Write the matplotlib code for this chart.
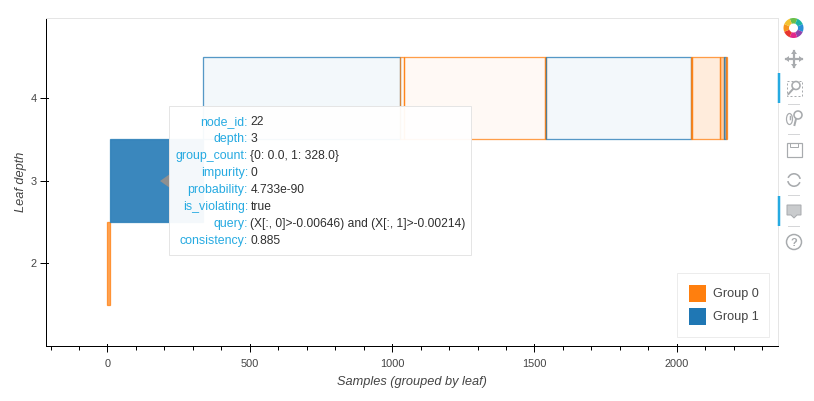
import numpy as np
import matplotlib
matplotlib.use("Agg")
from matplotlib import pyplot as plt
from matplotlib.patches import Rectangle, Circle, Wedge, Polygon, Ellipse

plt.rcParams["font.family"] = ["Liberation Sans", "DejaVu Sans"]

## leaves, left to right
leaf_samples = [10, 327, 690, 16, 494, 4, 509, 4, 99, 14, 5, 3]
leaf_depth = [2, 3, 4, 4, 4, 4, 4, 4, 4, 4, 4, 4]
leaf_group = [0, 1, 1, 0, 0, 0, 1, 0, 0, 0, 1, 0]
leaf_alpha = [0.7, 0.88, 0.05, 0.05, 0.04, 0.5, 0.05, 0.5, 0.14, 0.4, 0.5, 0.8]

group_colors = ["#ff7f0e", "#1f77b4"]
group_names = ["Group 0", "Group 1"]

x_ticks = [0, 500, 1000, 1500, 2000]
y_ticks = [2, 3, 4]

tip_names = ["node_id", "depth", "group_count", "impurity", "probability",
             "is_violating", "query", "consistency"]
tip_values = ["22", "3", "{0: 0.0, 1: 328.0}", "0", "4.733e-90", "true",
              "(X[:, 0]>-0.00646) and (X[:, 1]>-0.00214)", "0.885"]

W, H = 814, 401
px = 1 / 1.3889  # points for one pixel at dpi 100

fig = plt.figure(figsize=(W / 100, H / 100), dpi=100)
ax = fig.add_axes([46 / W, 1 - 346 / H, (778 - 46) / W, (346 - 18) / H])

lefts = np.concatenate([[0], np.cumsum(leaf_samples)[:-1]])
for i in range(len(leaf_samples)):
    c = matplotlib.colors.to_rgb(group_colors[leaf_group[i]])
    ax.bar(lefts[i], 1, width=leaf_samples[i], bottom=leaf_depth[i] - 0.5, align="edge",
           facecolor=c + (leaf_alpha[i],), edgecolor=c + (0.75,), linewidth=1.3 * px)

ax.set_xlim(-216, 2355.5)
ax.set_ylim(0.999, 4.966)
ax.set_xticks(x_ticks)
ax.set_yticks(y_ticks)
ax.set_xticks(np.arange(-200, 2400, 100), minor=True)
ax.tick_params(which="major", length=6 * px, width=px, labelsize=11 * px, labelcolor="#444444",
               direction="out")
ax.tick_params(axis="x", which="major", pad=5.2)
ax.tick_params(axis="y", which="major", pad=2.2)
ax.tick_params(which="minor", length=4 * px, width=px)
# major ticks also reach 2px inside
for t in x_ticks:
    ax.plot([t, t], [0, 2 / 328], transform=ax.get_xaxis_transform(), color="black", lw=px)
for t in y_ticks:
    ax.plot([0, 2 / 732], [t, t], transform=ax.get_yaxis_transform(), color="black", lw=px)
ax.set_xlabel("Samples (grouped by leaf)", fontsize=12.8 * px, style="italic", color="#444444", labelpad=5.2)
ax.set_ylabel("Leaf depth", fontsize=12.8 * px, style="italic", color="#444444", labelpad=2.4)
for s in ["top", "right"]:
    ax.spines[s].set_color("#e5e5e5")
    ax.spines[s].set_linewidth(px)
for s in ["left", "bottom"]:
    ax.spines[s].set_linewidth(px)

## overlay in pixels for tooltip, legend and toolbar
ov = fig.add_axes([0, 0, 1, 1], facecolor="none")
ov.set_xlim(0, W)
ov.set_ylim(H, 0)
ov.axis("off")

# legend
ov.add_patch(Rectangle((676.5, 272.5), 92, 64, fc="white", ec="#ececec", lw=px))
for i in range(2):
    y = 285 + i * 23
    ov.add_patch(Rectangle((689, y), 17, 17, fc=group_colors[i], ec="none"))
    ov.text(713, y + 9, group_names[i], fontsize=12.6 * px, color="#444444", va="center")

# tooltip
ov.add_patch(Polygon([[160, 181], [170, 174], [170, 188]], fc="#8f8f8f", ec="none"))
ov.add_patch(Rectangle((169, 106), 302, 149, fc=(1, 1, 1, 0.95), ec="#e5e5e5", lw=px))
for i in range(len(tip_names)):
    y = 122 + i * 17.05
    ov.text(248, y, tip_names[i] + ":", ha="right", va="center", fontsize=12.4 * px, color="#26aae1")
    ov.text(250.5, y, tip_values[i], ha="left", va="center", fontsize=12 * px, color="#2f2f2f")

# toolbar
grey = "#a8abae"
for y0, y1 in [(73, 103), (196, 226)]:
    ov.plot([779, 779], [y0, y1], color="#26aae1", lw=2.5 * px, solid_capstyle="butt")
for y in [104, 134, 195, 226]:
    ov.plot([788, 799], [y, y], color="#d5d6d8", lw=px)

logo = ["#6abf4b", "#19b5a5", "#2a8fd8", "#8e44ad", "#e2278b", "#e8352e", "#f7941d", "#f2c230"]
for i in range(8):
    ov.add_patch(Wedge((793.5, 28), 10, i * 45 - 112, i * 45 - 67, width=5.5, fc=logo[i], ec="none"))

# pan
ov.plot([786, 802], [59, 59], color=grey, lw=2.2 * px)
ov.plot([794, 794], [51, 67], color=grey, lw=2.2 * px)
for dx, dy in [(1, 0), (-1, 0), (0, 1), (0, -1)]:
    tip = np.array([794 + 9 * dx, 59 + 9 * dy])
    ov.add_patch(Polygon([tip, tip - [4 * dx - 3 * dy, 4 * dy - 3 * dx], tip - [4 * dx + 3 * dy, 4 * dy + 3 * dx]],
                         fc=grey, ec="none"))
# box zoom
ov.add_patch(Rectangle((786.5, 80.5), 15, 15, fc="none", ec=grey, lw=px, ls=(0, (2, 2))))
ov.add_patch(Circle((796, 85.5), 4, fc="white", ec=grey, lw=1.6 * px))
ov.plot([793, 788.5], [89, 94], color=grey, lw=2 * px)
# wheel zoom
ov.add_patch(Ellipse((789.5, 119), 6, 11, fc="none", ec=grey, lw=1.2 * px))
ov.plot([789.5, 789.5], [116, 119], color=grey, lw=1.5 * px)
ov.add_patch(Circle((798, 115), 4, fc="none", ec=grey, lw=1.6 * px))
ov.plot([796, 794.5], [119, 125], color=grey, lw=2 * px)
# save
ov.add_patch(Rectangle((786.5, 142.5), 15, 14, fc="none", ec=grey, lw=1.2 * px))
ov.add_patch(Rectangle((790, 142.5), 8, 4, fc="none", ec=grey, lw=px))
# reset
ov.add_patch(Wedge((794, 180), 7, 20, 170, width=1.6, fc=grey, ec="none"))
ov.add_patch(Wedge((794, 180), 7, 200, 350, width=1.6, fc=grey, ec="none"))
# hover
ov.add_patch(Polygon([[787, 205], [801, 205], [801, 215], [797, 215], [794, 218], [791, 215], [787, 215]],
                     fc="#c9cbcd", ec=grey, lw=px))
# help
ov.add_patch(Circle((794, 242), 7.5, fc="none", ec=grey, lw=1.5 * px))
ov.text(794, 242.5, "?", ha="center", va="center", fontsize=11 * px, color=grey, weight="bold")

fig.savefig("out.png", dpi=100)
